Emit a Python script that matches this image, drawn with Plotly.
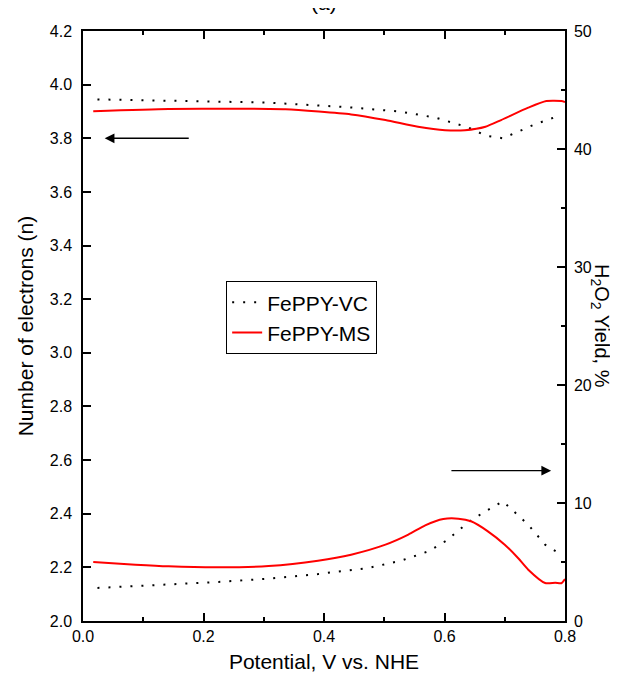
import plotly.graph_objects as go

# ---- data ----
vc_n_x = [0.024, 0.142, 0.308, 0.445, 0.528, 0.585, 0.640, 0.668, 0.697, 0.750, 0.794]
vc_n = [3.945, 3.940, 3.933, 3.915, 3.899, 3.877, 3.840, 3.810, 3.800, 3.852, 3.887]

ms_n_x = [0.017, 0.142, 0.253, 0.336, 0.445, 0.502, 0.556, 0.601, 0.634, 0.668, 0.694, 0.739, 0.769, 0.794, 0.800]
ms_n = [3.901, 3.909, 3.910, 3.908, 3.889, 3.868, 3.843, 3.830, 3.830, 3.843, 3.868, 3.914, 3.939, 3.939, 3.935]

vc_y_x = [0.024, 0.142, 0.225, 0.308, 0.390, 0.473, 0.528, 0.573, 0.603, 0.640, 0.668, 0.697, 0.739, 0.767, 0.792]
vc_y = [2.80, 3.08, 3.31, 3.59, 3.98, 4.49, 5.11, 5.90, 6.80, 8.39, 9.30, 10.14, 8.16, 6.47, 5.68]

ms_y_x = [0.017, 0.087, 0.142, 0.225, 0.308, 0.390, 0.445, 0.502, 0.540, 0.568, 0.598, 0.623, 0.644,
          0.672, 0.700, 0.722, 0.739, 0.767, 0.784, 0.794, 0.800]
ms_y = [5.00, 4.77, 4.63, 4.55, 4.66, 5.11, 5.62, 6.47, 7.32, 8.11, 8.64, 8.67, 8.45,
        7.60, 6.47, 5.34, 4.35, 3.22, 3.24, 3.20, 3.56]

series_names = ["FePPY-VC", "FePPY-MS"]

FONT = "Liberation Sans, Arial, sans-serif"
dot_style = dict(color="black", width=2, dash="2px,9px")
red_style = dict(color="#ff0000", width=2, shape="spline", smoothing=0.6)

fig = go.Figure()
fig.add_trace(go.Scatter(x=vc_n_x, y=vc_n, mode="lines", name=series_names[0],
                         line=dot_style, legendgroup="vc"))
fig.add_trace(go.Scatter(x=ms_n_x, y=ms_n, mode="lines", name=series_names[1],
                         line=red_style, legendgroup="ms"))
fig.add_trace(go.Scatter(x=vc_y_x, y=vc_y, mode="lines", name=series_names[0],
                         line=dot_style, legendgroup="vc", showlegend=False, yaxis="y2"))
fig.add_trace(go.Scatter(x=ms_y_x, y=ms_y, mode="lines", name=series_names[1],
                         line=red_style, legendgroup="ms", showlegend=False, yaxis="y2"))

axis_common = dict(showline=True, linecolor="black", linewidth=1.5, ticks="inside",
                   tickcolor="black", tickwidth=1.5, showgrid=False, zeroline=False,
                   automargin=False,
                   tickfont=dict(family=FONT, size=16, color="black"))

fig.update_layout(
    width=618, height=677,
    margin=dict(l=75, r=61, t=23, b=64),
    paper_bgcolor="white", plot_bgcolor="white",
    font=dict(family=FONT, color="black"),
    xaxis=dict(range=[0, 0.8], dtick=0.2, tick0=0, tickformat=".1f", ticklen=8,
               mirror="ticks",
               minor=dict(dtick=0.1, ticks="inside", ticklen=4, tickcolor="black", tickwidth=1.5),
               title=dict(text="Potential, V vs. NHE", font=dict(family=FONT, size=21), standoff=10),
               **axis_common),
    yaxis=dict(range=[2.0, 4.2], dtick=0.2, tick0=2.0, tickformat=".1f", ticklen=8,
               title=dict(text="Number of electrons (n)", font=dict(family=FONT, size=21), standoff=10),
               ticklabelstandoff=6,
               **axis_common),
    yaxis2=dict(range=[0, 50], dtick=10, tick0=0, overlaying="y", side="right", ticklen=8,
                minor=dict(dtick=5, ticks="inside", ticklen=4, tickcolor="black", tickwidth=1.5),
                ticklabelstandoff=4,
                **axis_common),
    legend=dict(x=0.297, y=0.576, xanchor="left", yanchor="top",
                bordercolor="black", borderwidth=1, bgcolor="white",
                font=dict(family=FONT, size=21, color="black"),
                tracegroupgap=0),
    showlegend=True,
)

fig.add_annotation(xref="paper", yref="paper", x=1.0, y=0.5, xanchor="center", yanchor="middle",
                   xshift=36, text="H<sub>2</sub>O<sub>2</sub> Yield, %", textangle=90,
                   showarrow=False, font=dict(family=FONT, size=20, color="black"))

fig.add_annotation(xref="paper", yref="paper", x=0.5, y=1.0, yanchor="bottom", yshift=15,
                   text="(a)", showarrow=False, font=dict(family=FONT, size=21, color="black"))

# arrows pointing to the relevant axis
fig.add_annotation(x=0.036, y=3.80, xref="x", yref="y", ax=0.178, ay=3.80, axref="x", ayref="y",
                   showarrow=True, arrowhead=2, arrowsize=1.5, arrowwidth=1.3, arrowcolor="black", text="")
fig.add_annotation(x=0.777, y=12.74, xref="x", yref="y2", ax=0.609, ay=12.74, axref="x", ayref="y2",
                   showarrow=True, arrowhead=2, arrowsize=1.5, arrowwidth=1.3, arrowcolor="black", text="")

fig.write_html("out.html")
